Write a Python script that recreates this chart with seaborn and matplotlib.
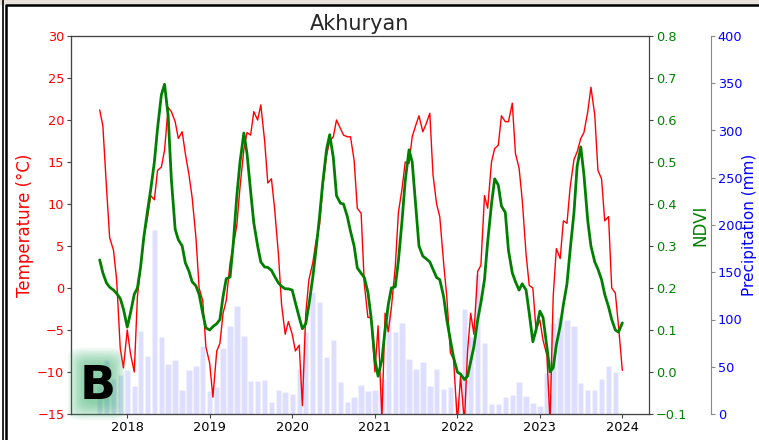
import numpy as np
import pandas as pd
import matplotlib
matplotlib.use("Agg")
import matplotlib.pyplot as plt
import matplotlib.dates as mdates
from matplotlib.patches import FancyBboxPatch, Rectangle
from matplotlib.lines import Line2D
import seaborn as sns

sns.set_style("ticks")
plt.rcParams["font.family"] = ["DejaVu Sans"]

# ---------------------------------------------------------------
# data
# ---------------------------------------------------------------
SITE = "Akhuryan"

# semi-monthly dates, 2017-09-01 .. 2024-01-01 (153 points)
semi_dates = pd.date_range("2017-09-01", periods=153, freq="SMS")

temp_c = [
    21.2, 19.3, 12.0, 6.0, 4.5, 1.0, -7.2, -9.5, -5.0, -7.8,
    -10.0, -1.0, 2.5, 6.0, 8.5, 11.0, 10.5, 14.0, 14.4, 16.4,
    21.5, 21.0, 19.8, 17.8, 18.6, 16.0, 13.5, 10.8, 6.0, 0.0,
    -1.5, -7.0, -9.0, -13.0, -7.5, -6.6, -3.0, -1.5, 3.0, 5.0,
    7.5, 12.0, 16.5, 18.5, 18.2, 21.0, 20.0, 21.8, 17.5, 12.5,
    13.0, 9.5, 4.0, -2.0, -5.5, -4.0, -5.5, -7.5, -6.8, -14.0,
    -3.0, 1.0, 3.0, 5.5, 7.5, 12.0, 15.8, 17.5, 18.0, 20.0,
    19.0, 18.2, 18.0, 18.0, 15.2, 9.5, 8.9, 0.5, -3.5, -3.5,
    -10.0, -4.5, -15.5, -3.0, -5.2, -2.3, 2.5, 9.0, 11.8, 15.0,
    14.8, 18.0, 19.4, 20.5, 18.6, 19.5, 20.8, 13.5, 10.0, 8.5,
    3.0, -1.0, -7.7, -8.5, -16.0, -10.5, -16.0, -7.5, -3.0, -5.5,
    2.0, 2.7, 11.0, 9.5, 15.0, 16.6, 17.0, 20.5, 19.8, 19.8,
    22.0, 16.0, 14.3, 10.5, 4.0, 0.3, 0.0, -5.0, -3.8, -6.2,
    -8.0, -16.0, -1.0, 4.7, 3.5, 8.0, 7.7, 12.0, 15.3, 16.2,
    17.8, 18.5, 21.0, 23.9, 20.6, 14.0, 13.0, 8.0, 8.5, 0.0,
    -0.6, -4.5, -9.8,
]

ndvi = [
    0.267, 0.236, 0.212, 0.202, 0.195, 0.187, 0.175, 0.150, 0.107, 0.140,
    0.185, 0.200, 0.250, 0.320, 0.385, 0.435, 0.500, 0.580, 0.660, 0.685,
    0.610, 0.460, 0.340, 0.315, 0.300, 0.260, 0.240, 0.215, 0.205, 0.185,
    0.140, 0.105, 0.100, 0.108, 0.115, 0.125, 0.180, 0.222, 0.226, 0.305,
    0.420, 0.500, 0.569, 0.520, 0.430, 0.355, 0.300, 0.262, 0.250, 0.249,
    0.242, 0.228, 0.212, 0.204, 0.198, 0.198, 0.195, 0.165, 0.130, 0.103,
    0.115, 0.160, 0.225, 0.290, 0.370, 0.450, 0.530, 0.565, 0.510, 0.420,
    0.402, 0.400, 0.370, 0.335, 0.300, 0.248, 0.235, 0.225, 0.190, 0.130,
    0.030, -0.010, 0.030, 0.100, 0.160, 0.200, 0.203, 0.265, 0.360, 0.455,
    0.529, 0.500, 0.395, 0.300, 0.276, 0.270, 0.262, 0.245, 0.225, 0.220,
    0.180, 0.125, 0.076, 0.035, 0.000, -0.005, -0.018, -0.010, 0.025, 0.060,
    0.125, 0.165, 0.220, 0.310, 0.400, 0.460, 0.445, 0.395, 0.380, 0.290,
    0.236, 0.215, 0.195, 0.210, 0.195, 0.140, 0.072, 0.100, 0.145, 0.130,
    0.060, 0.000, 0.010, 0.065, 0.110, 0.160, 0.210, 0.290, 0.380, 0.490,
    0.536, 0.470, 0.360, 0.300, 0.262, 0.245, 0.220, 0.185, 0.155, 0.125,
    0.100, 0.095, 0.117,
]

# monthly precipitation, Sep 2017 .. Dec 2023
month_dates = pd.date_range("2017-09-01", "2023-12-01", freq="MS")
precip_mm = [
    30, 57, 37, 41,
    47, 30, 88, 61, 195, 82, 53, 57, 25, 47, 51, 72,
    24, 29, 70, 93, 114, 83, 35, 35, 36, 13, 25, 23,
    21, 48, 87, 129, 119, 60, 78, 34, 13, 18, 31, 24,
    25, 37, 114, 87, 96, 58, 48, 55, 30, 48, 26, 29,
    18, 111, 81, 148, 75, 11, 11, 18, 20, 34, 19, 12,
    8, 43, 96, 103, 100, 93, 33, 25, 25, 37, 51, 44,
]

# ---------------------------------------------------------------
# figure
# ---------------------------------------------------------------
W, H = 759, 440
fig = plt.figure(figsize=(W / 100, H / 100), dpi=100)
ax = fig.add_axes([71 / W, 26 / H, 578 / W, 378 / H])
ax2 = ax.twinx()
ax3 = ax.twinx()

# bars at the back, temperature in the middle, NDVI on top
ax3.set_zorder(1)
ax.set_zorder(2)
ax2.set_zorder(3)
ax.patch.set_visible(False)
ax2.patch.set_visible(False)

ax3.bar(month_dates, precip_mm, width=24, color="blue", alpha=0.13, align="center")
sns.lineplot(x=semi_dates, y=temp_c, ax=ax, color="red", linewidth=1.0)
sns.lineplot(x=semi_dates, y=ndvi, ax=ax2, color="green", linewidth=2.0)

ax.set_ylim(-15, 30)
ax.set_yticks(np.arange(-15, 31, 5))
ax2.set_ylim(-0.1, 0.8)
ax2.set_yticks(np.round(np.arange(-0.1, 0.81, 0.1), 1))
ax3.set_ylim(0, 400)
ax3.set_yticks(np.arange(0, 401, 50))
ax3.spines["right"].set_position(("axes", (711 - 71) / 578))

ax.set_xlim(pd.Timestamp("2017-04-27"), pd.Timestamp("2024-04-28"))
ax.xaxis.set_major_locator(mdates.YearLocator())
ax.xaxis.set_major_formatter(mdates.DateFormatter("%Y"))

ax.set_ylabel("Temperature (°C)", color="red", fontsize=12)
ax2.set_ylabel("NDVI", color="green", fontsize=12)
ax3.set_ylabel("Precipitation (mm)", color="blue", fontsize=11)
ax.yaxis.set_label_coords(-0.064, 0.5)
ax2.yaxis.set_label_coords(1.074, 0.5)
ax3.yaxis.set_label_coords(1.1605, 0.5)
ax.set_xlabel("")
ax.set_title(SITE, fontsize=15, pad=4)

tick_kw = dict(length=3, pad=1.8, labelsize=9.3)
ax.tick_params(axis="y", colors="#444444", labelcolor="red", **tick_kw)
ax.tick_params(axis="x", colors="#444444", labelcolor="black", **tick_kw)
ax2.tick_params(axis="y", colors="#444444", labelcolor="green", **tick_kw)
ax3.tick_params(axis="y", colors="#888888", labelcolor="blue", **tick_kw)
for a in (ax, ax2):
    for s in a.spines.values():
        s.set_color("#444444")
ax3.spines["right"].set_color("#888888")

# ---------------------------------------------------------------
# panel frame and "B" tag
# ---------------------------------------------------------------
fig.patches.append(Rectangle((0, 1 - 4 / H), 1, 4 / H, transform=fig.transFigure,
                             color="#e8e2da", zorder=0))
fig.lines.append(Line2D([7 / W, 1], [1 - 5.5 / H, 1 - 5.5 / H], transform=fig.transFigure,
                        color="black", linewidth=1.8))
fig.lines.append(Line2D([6.2 / W, 6.2 / W], [0, 1 - 5.5 / H], transform=fig.transFigure,
                        color="black", linewidth=1.8))
fig.lines.append(Line2D([2.5 / W, 2.5 / W], [0, 1], transform=fig.transFigure,
                        color="black", linewidth=1.2))

# soft green glow behind the panel letter
cx, cy = 97 / W, (H - 384) / H
for k in range(12):
    bw = (58 - 3 * k) / W
    bh = (72 - 3 * k) / H
    fig.patches.append(FancyBboxPatch((cx - bw / 2, cy - bh / 2), bw, bh,
                                      boxstyle="round,pad=0,rounding_size=0.018",
                                      transform=fig.transFigure, facecolor="#3cb371",
                                      edgecolor="none", alpha=0.065, zorder=5))
fig.text(cx + 0.5 / W, cy - 2 / H, "B", fontsize=34, fontweight="bold", color="black",
         ha="center", va="center", zorder=6)

fig.savefig("out.png", dpi=100)
